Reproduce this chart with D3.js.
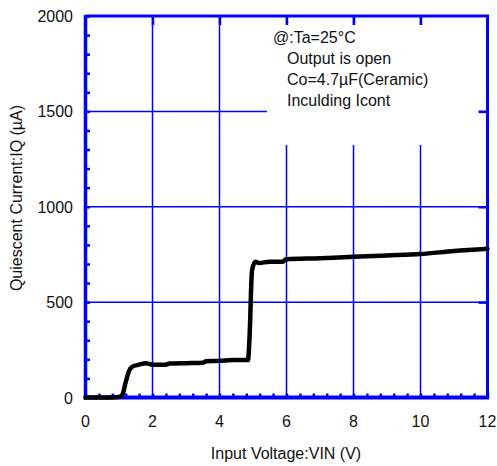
<!DOCTYPE html>
<html>
<head>
<meta charset="utf-8">
<script src="https://cdn.jsdelivr.net/npm/d3@7"></script>
<style>
  html, body { margin: 0; padding: 0; background: #fff; }
  text { font-family: "Liberation Sans", Arial, sans-serif; fill: #111; }
</style>
</head>
<body>
<svg id="chart" width="497" height="466"></svg>
<script>
// values
var vin = [0, 0.5, 1.0, 1.1, 1.2, 1.3, 1.4, 1.6, 1.8, 2.0, 2.4, 2.5, 3.0, 3.5, 3.6, 4.0, 4.4, 4.85, 4.9, 4.97, 5.07, 5.17, 5.5, 5.9, 5.97, 7, 8, 9, 10, 11, 12];
var iq  = [0, 0, 3, 15, 80, 140, 162, 172, 180, 172, 172, 178, 180, 182, 190, 192, 196, 196, 330, 665, 712, 705, 712, 712, 724, 730, 738, 745, 752, 768, 780];
var xTicks = [0, 2, 4, 6, 8, 10, 12];
var yTicks = [0, 500, 1000, 1500, 2000];
var xGrid = [2, 4, 6, 8, 10];
var yGrid = [500, 1000, 1500];
var notes = ["@:Ta=25°C", "Output is open", "Co=4.7µF(Ceramic)", "Inculding Icont"];
var xTitle = "Input Voltage:VIN (V)";
var yTitle = "Quiescent Current:IQ (µA)";

var BLUE = "#0000ff";
var L = 85.5, R = 487.5, T = 16, B = 397.5;

var svg = d3.select("#chart");
var x = d3.scaleLinear().domain([0, 12]).range([L, R]);
var y = d3.scaleLinear().domain([0, 2000]).range([B, T]);

// grid
svg.append("g").selectAll("line").data(xGrid).join("line")
  .attr("x1", d => x(d)).attr("x2", d => x(d))
  .attr("y1", T).attr("y2", B)
  .attr("stroke", BLUE).attr("stroke-width", 1.5);
svg.append("g").selectAll("line").data(yGrid).join("line")
  .attr("x1", L).attr("x2", R)
  .attr("y1", d => y(d)).attr("y2", d => y(d))
  .attr("stroke", BLUE).attr("stroke-width", 1.5);

// white note box covers grid
svg.append("rect").attr("x", 267).attr("y", 25).attr("width", 212).attr("height", 120).attr("fill", "#fff");

svg.append("g").selectAll("text").data(notes).join("text")
  .attr("x", (d, i) => i === 0 ? 273 : 287)
  .attr("y", (d, i) => 43 + i * 21)
  .attr("font-size", 16)
  .text(d => d);

// minor ticks, inside
function styleAxis(g) {
  g.select(".domain").remove();
  g.selectAll(".tick line").attr("stroke", BLUE).attr("stroke-width", 2.5);
  g.selectAll(".tick text").remove();
}
svg.append("g").attr("transform", "translate(0," + B + ")")
  .call(d3.axisBottom(x).tickValues(d3.range(0, 12.01, 0.4)).tickSizeInner(-4).tickSizeOuter(0))
  .call(styleAxis);
svg.append("g").attr("transform", "translate(" + L + ",0)")
  .call(d3.axisLeft(y).tickValues(d3.range(0, 2001, 100)).tickSizeInner(-4.5).tickSizeOuter(0))
  .call(styleAxis);
svg.append("g").attr("transform", "translate(0," + T + ")")
  .call(d3.axisTop(x).tickValues(xGrid).tickSizeInner(-9).tickSizeOuter(0))
  .call(styleAxis);
svg.append("g").attr("transform", "translate(" + R + ",0)")
  .call(d3.axisRight(y).tickValues(yGrid).tickSizeInner(-9).tickSizeOuter(0))
  .call(styleAxis);

// frame
svg.append("line").attr("x1", L).attr("x2", L).attr("y1", T - 1).attr("y2", B + 2)
  .attr("stroke", BLUE).attr("stroke-width", 3.5);
svg.append("line").attr("x1", L - 1.5).attr("x2", R + 1.5).attr("y1", B).attr("y2", B)
  .attr("stroke", BLUE).attr("stroke-width", 4);
svg.append("line").attr("x1", L).attr("x2", R + 1.5).attr("y1", T).attr("y2", T)
  .attr("stroke", BLUE).attr("stroke-width", 3);
svg.append("line").attr("x1", R).attr("x2", R).attr("y1", T).attr("y2", B)
  .attr("stroke", BLUE).attr("stroke-width", 3);

// tick labels
svg.append("g").selectAll("text").data(xTicks).join("text")
  .attr("x", d => x(d)).attr("y", 427)
  .attr("text-anchor", "middle").attr("font-size", 16)
  .text(d => d);
svg.append("g").selectAll("text").data(yTicks).join("text")
  .attr("x", 73).attr("y", d => y(d) + 6)
  .attr("text-anchor", "end").attr("font-size", 16)
  .text(d => d);

// titles
svg.append("text").attr("x", 286).attr("y", 459)
  .attr("text-anchor", "middle").attr("font-size", 16).text(xTitle);
svg.append("text").attr("transform", "translate(22,198) rotate(-90)")
  .attr("text-anchor", "middle").attr("font-size", 16).text(yTitle);

// curve
var pts = vin.map((v, i) => [v, iq[i]]);
svg.append("path").datum(pts)
  .attr("fill", "none").attr("stroke", "#000").attr("stroke-width", 4.5)
  .attr("stroke-linejoin", "round").attr("stroke-linecap", "round")
  .attr("d", d3.line().x(d => x(d[0])).y(d => y(d[1])).curve(d3.curveMonotoneX));
</script>
</body>
</html>
